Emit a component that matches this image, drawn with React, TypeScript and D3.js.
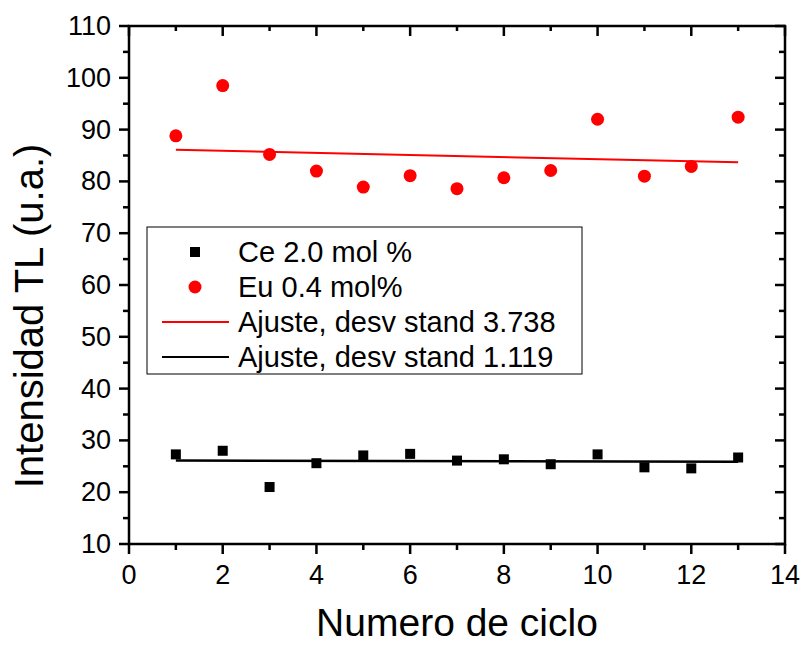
import React from "react";
import * as d3 from "d3";

const cycles = [1, 2, 3, 4, 5, 6, 7, 8, 9, 10, 11, 12, 13];
const euValues = [88.8, 98.5, 85.2, 82.0, 78.9, 81.1, 78.6, 80.7, 82.1, 92.0, 81.0, 82.9, 92.4];
const ceValues = [27.3, 28.0, 21.0, 25.6, 27.1, 27.4, 26.1, 26.35, 25.4, 27.3, 24.8, 24.6, 26.7];
const euFit = [86.1, 83.7]; // at x=1 and x=13
const ceFit = [26.1, 25.9];
const xTicks = [0, 2, 4, 6, 8, 10, 12, 14];
const yTicks = [10, 20, 30, 40, 50, 60, 70, 80, 90, 100, 110];
const legendLabels = ["Ce 2.0 mol %", "Eu 0.4 mol%", "Ajuste, desv stand 3.738", "Ajuste, desv stand 1.119"];

export default function App() {
  const W = 804, H = 645;
  const L = 129, R = 785, T = 26, B = 544;
  const x = d3.scaleLinear().domain([0, 14]).range([L, R]);
  const y = d3.scaleLinear().domain([10, 110]).range([B, T]);
  const font = "'Liberation Sans', Arial, sans-serif";
  const xMinor = d3.range(1, 14, 2);
  const yMinor = d3.range(15, 110, 10);
  const line = d3.line<[number, number]>().x(d => x(d[0])).y(d => y(d[1]));
  const lg = { x: 147, y: 227, w: 435, h: 147 };
  const rowY = [252, 287, 322, 357];
  return (
    <svg width={W} height={H} style={{ position: "absolute", left: 0, top: 0 }} fontFamily={font}>
      <rect width={W} height={H} fill="white" />
      <rect x={L} y={T} width={R - L} height={B - T} fill="none" stroke="black" strokeWidth={2.5} />
      {xTicks.map(t => <line key={"xb" + t} x1={x(t)} x2={x(t)} y1={B} y2={B + 10} stroke="black" strokeWidth={2.5} />)}
      {xMinor.map(t => <line key={"xbm" + t} x1={x(t)} x2={x(t)} y1={B} y2={B + 6} stroke="black" strokeWidth={2.5} />)}
      {xTicks.map(t => <line key={"xt" + t} x1={x(t)} x2={x(t)} y1={T} y2={T + 10} stroke="black" strokeWidth={2.5} />)}
      {xMinor.map(t => <line key={"xtm" + t} x1={x(t)} x2={x(t)} y1={T} y2={T + 5} stroke="black" strokeWidth={2.5} />)}
      {yTicks.map(t => <line key={"yl" + t} x1={L - 10} x2={L} y1={y(t)} y2={y(t)} stroke="black" strokeWidth={2.5} />)}
      {yMinor.map(t => <line key={"ylm" + t} x1={L - 6} x2={L} y1={y(t)} y2={y(t)} stroke="black" strokeWidth={2.5} />)}
      {yTicks.map(t => <line key={"yr" + t} x1={R - 10} x2={R} y1={y(t)} y2={y(t)} stroke="black" strokeWidth={2.5} />)}
      {yMinor.map(t => <line key={"yrm" + t} x1={R - 6} x2={R} y1={y(t)} y2={y(t)} stroke="black" strokeWidth={2.5} />)}
      {xTicks.map(t => <text key={"xl" + t} x={x(t)} y={B + 40} textAnchor="middle" fontSize={27}>{t}</text>)}
      {yTicks.map(t => <text key={"ylab" + t} x={L - 18} y={y(t) + 9} textAnchor="end" fontSize={27}>{t}</text>)}
      <text x={457} y={636} textAnchor="middle" fontSize={39}>Numero de ciclo</text>
      <text transform={`translate(43,316) rotate(-90)`} textAnchor="middle" fontSize={40}>Intensidad TL (u.a.)</text>
      <path d={line([[1, euFit[0]], [13, euFit[1]]]) || ""} stroke="red" strokeWidth={2} fill="none" />
      <path d={line([[1, ceFit[0]], [13, ceFit[1]]]) || ""} stroke="black" strokeWidth={2.5} fill="none" />
      {cycles.map((c, i) => <circle key={"eu" + c} cx={x(c)} cy={y(euValues[i])} r={6.5} fill="red" />)}
      {cycles.map((c, i) => <rect key={"ce" + c} x={x(c) - 5} y={y(ceValues[i]) - 5} width={10} height={10} fill="black" />)}
      <rect x={lg.x} y={lg.y} width={lg.w} height={lg.h} fill="white" stroke="black" strokeWidth={1} />
      <rect x={195 - 5} y={rowY[0] - 5} width={10} height={10} fill="black" />
      <circle cx={195} cy={rowY[1]} r={6.5} fill="red" />
      <line x1={162} x2={229} y1={rowY[2]} y2={rowY[2]} stroke="red" strokeWidth={2} />
      <line x1={162} x2={229} y1={rowY[3]} y2={rowY[3]} stroke="black" strokeWidth={2} />
      {legendLabels.map((s, i) => <text key={s} x={238} y={rowY[i] + 10} fontSize={29}>{s}</text>)}
    </svg>
  );
}
